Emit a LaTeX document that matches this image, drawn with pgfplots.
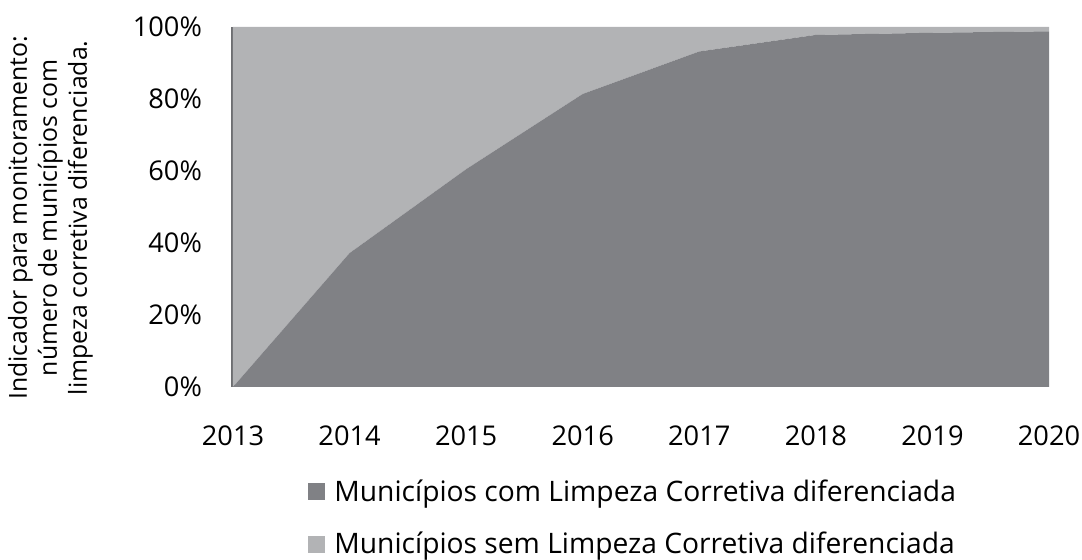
\documentclass[border=0pt]{standalone}
\usepackage{pgfplots}
\pgfplotsset{compat=1.18}
\usepackage{fontspec}
\setmainfont{Open Sans}
\definecolor{darkarea}{RGB}{128,129,133}
\definecolor{lightarea}{RGB}{178,179,181}
\begin{document}
\begin{tikzpicture}
\useasboundingbox (0,0) rectangle (541pt,280pt);
\begin{axis}[
  at={(116.5pt,86.5pt)}, anchor=south west,
  scale only axis, width=408pt, height=180pt,
  xmin=2013, xmax=2020, ymin=0, ymax=100,
  stack plots=y,
  axis line style={draw=none},
  major tick length=0pt,
  xtick={2013,2014,2015,2016,2017,2018,2019,2020},
  xticklabels={2013,2014,2015,2016,2017,2018,2019,2020},
  ytick={0,20,40,60,80,100},
  yticklabels={0\%,20\%,40\%,60\%,80\%,100\%},
  tick label style={font=\fontsize{13.6}{16}\selectfont},
  yticklabel style={xshift=-12pt},
  xticklabel style={yshift=-16pt},
  ylabel={Indicador para monitoramento:\\número de municípios com\\limpeza corretiva diferenciada.},
  ylabel style={font=\fontsize{12.4}{15}\selectfont, align=center, at={(axis description cs:-0.163,0.47)}, anchor=south},
  legend style={draw=none, fill=none, at={(axis description cs:0.092,-0.245)}, anchor=north west,
    font=\fontsize{14.1}{16}\selectfont, row sep=10pt, inner sep=0pt,
    nodes={inner xsep=4.5pt}},
  legend cell align=left,
  legend image code/.code={\fill[#1] (0pt,-4.2pt) rectangle (8.5pt,4.2pt);},
  clip=false,
]
\addplot[fill=darkarea, draw=none] coordinates {
 (2013,0) (2014,37.2) (2015,60.5) (2016,81.4) (2017,93.2) (2018,97.8) (2019,98.4) (2020,98.8)
} \closedcycle;
\addlegendentry{Municípios com Limpeza Corretiva diferenciada}
\addplot[fill=lightarea, draw=none] coordinates {
 (2013,100) (2014,62.8) (2015,39.5) (2016,18.6) (2017,6.8) (2018,2.2) (2019,1.6) (2020,1.2)
} \closedcycle;
\addlegendentry{Municípios sem Limpeza Corretiva diferenciada}
\draw[darkarea!85!black, line width=2pt] (rel axis cs:0,0) -- (rel axis cs:0,1);
\end{axis}
\end{tikzpicture}
\end{document}
